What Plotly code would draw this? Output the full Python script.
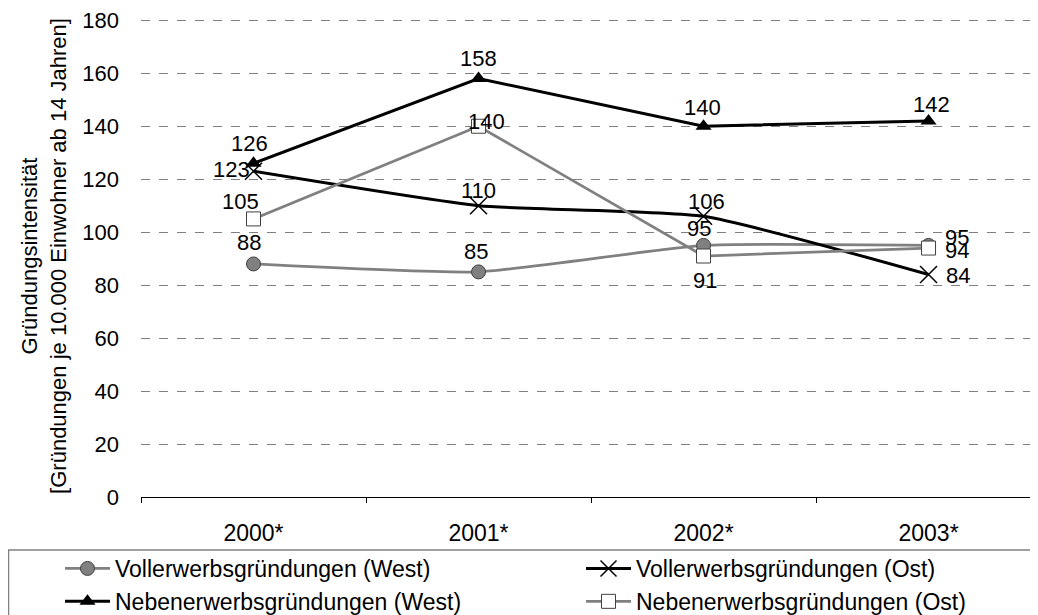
import plotly.graph_objects as go

years = ['2000*', '2001*', '2002*', '2003*']
voll_west = [88, 85, 95, 95]
voll_ost = [123, 110, 106, 84]
neben_west = [126, 158, 140, 142]
neben_ost = [105, 140, 91, 94]

font = dict(family='Liberation Sans', size=22, color='black')
legend_font = dict(family='Liberation Sans', size=23, color='black')

series = [
    dict(name='Vollerwerbsgründungen (West)', y=voll_west, legend='legend',
         line=dict(color='#808080', width=2.75, shape='spline', smoothing=0.5),
         marker=dict(symbol='circle', size=14, color='#808080', line=dict(color='#404040', width=1)),
         # label offsets in px (dx, dy), dy downwards
         offsets=[(-5, -21), (-3, -20), (-5, -17), (28, -8)]),
    dict(name='Vollerwerbsgründungen (Ost)', y=voll_ost, legend='legend2',
         line=dict(color='black', width=3, shape='spline', smoothing=0.5),
         marker=dict(symbol='x-thin', size=17, color='black', line=dict(color='black', width=1.5)),
         offsets=[(-22, -2), (0, -15), (3, -15), (29, 1)]),
    dict(name='Nebenerwerbsgründungen (West)', y=neben_west, legend='legend',
         line=dict(color='black', width=3),
         marker=dict(symbol='triangle-up', size=14, color='black'),
         offsets=[(-4, -20), (0, -20), (-1, -19), (3, -16)]),
    dict(name='Nebenerwerbsgründungen (Ost)', y=neben_ost, legend='legend2',
         line=dict(color='#808080', width=2.75),
         marker=dict(symbol='square', size=14, color='white', line=dict(color='#404040', width=1)),
         offsets=[(-13, -17), (8, -5), (1, 24), (28, 2)]),
]

fig = go.Figure()
annotations = []
for s in series:
    fig.add_trace(go.Scatter(
        x=years, y=s['y'], name=s['name'], legend=s['legend'],
        mode='lines+markers', line=s['line'], marker=s['marker'],
    ))
    for x, y, (dx, dy) in zip(years, s['y'], s['offsets']):
        annotations.append(dict(
            x=x, y=y, text=str(y), showarrow=False,
            xshift=dx, yshift=-dy, font=font,
            xanchor='center', yanchor='middle',
        ))

legend_style = dict(
    orientation='v',
    yanchor='top', y=-0.1037,
    xanchor='left',
    bgcolor='rgba(0,0,0,0)',
    borderwidth=0,
    font=legend_font,
    itemwidth=45,
)

fig.update_layout(
    width=1038,
    height=615,
    margin=dict(l=133, r=0, t=7, b=126, autoexpand=False),
    paper_bgcolor='white',
    plot_bgcolor='white',
    font=font,
    showlegend=True,
    legend=dict(legend_style, x=-0.0895),
    legend2=dict(legend_style, x=0.4862),
    annotations=annotations,
    xaxis=dict(
        type='category',
        range=[-0.5, 3.522],
        showgrid=False,
        showline=True,
        linecolor='black',
        linewidth=1,
        ticks='outside',
        tickson='boundaries',
        ticklen=5,
        tickcolor='black',
        ticklabelstandoff=15,
        tickfont=legend_font,
    ),
    yaxis=dict(
        range=[0, 182],
        tickvals=[0, 20, 40, 60, 80, 100, 120, 140, 160, 180],
        showgrid=True,
        gridcolor='#808080',
        griddash='dash',
        gridwidth=1,
        zeroline=False,
        showline=False,
        ticks='',
        ticklabelstandoff=21,
        tickfont=font,
        title=dict(
            text='Gründungsintensität<br>[Gründungen je 10.000 Einwohner ab 14 Jahren]',
            font=font,
            standoff=9,
        ),
    ),
    # legend frame running off the right and bottom edge, as in the source
    shapes=[dict(
        type='rect', xref='paper', yref='paper',
        x0=-0.1464, x1=1.1, y0=-0.4, y1=-0.11,
        line=dict(color='#808080', width=1.5),
        fillcolor='rgba(0,0,0,0)',
    )],
)

fig.write_html('out.html')
